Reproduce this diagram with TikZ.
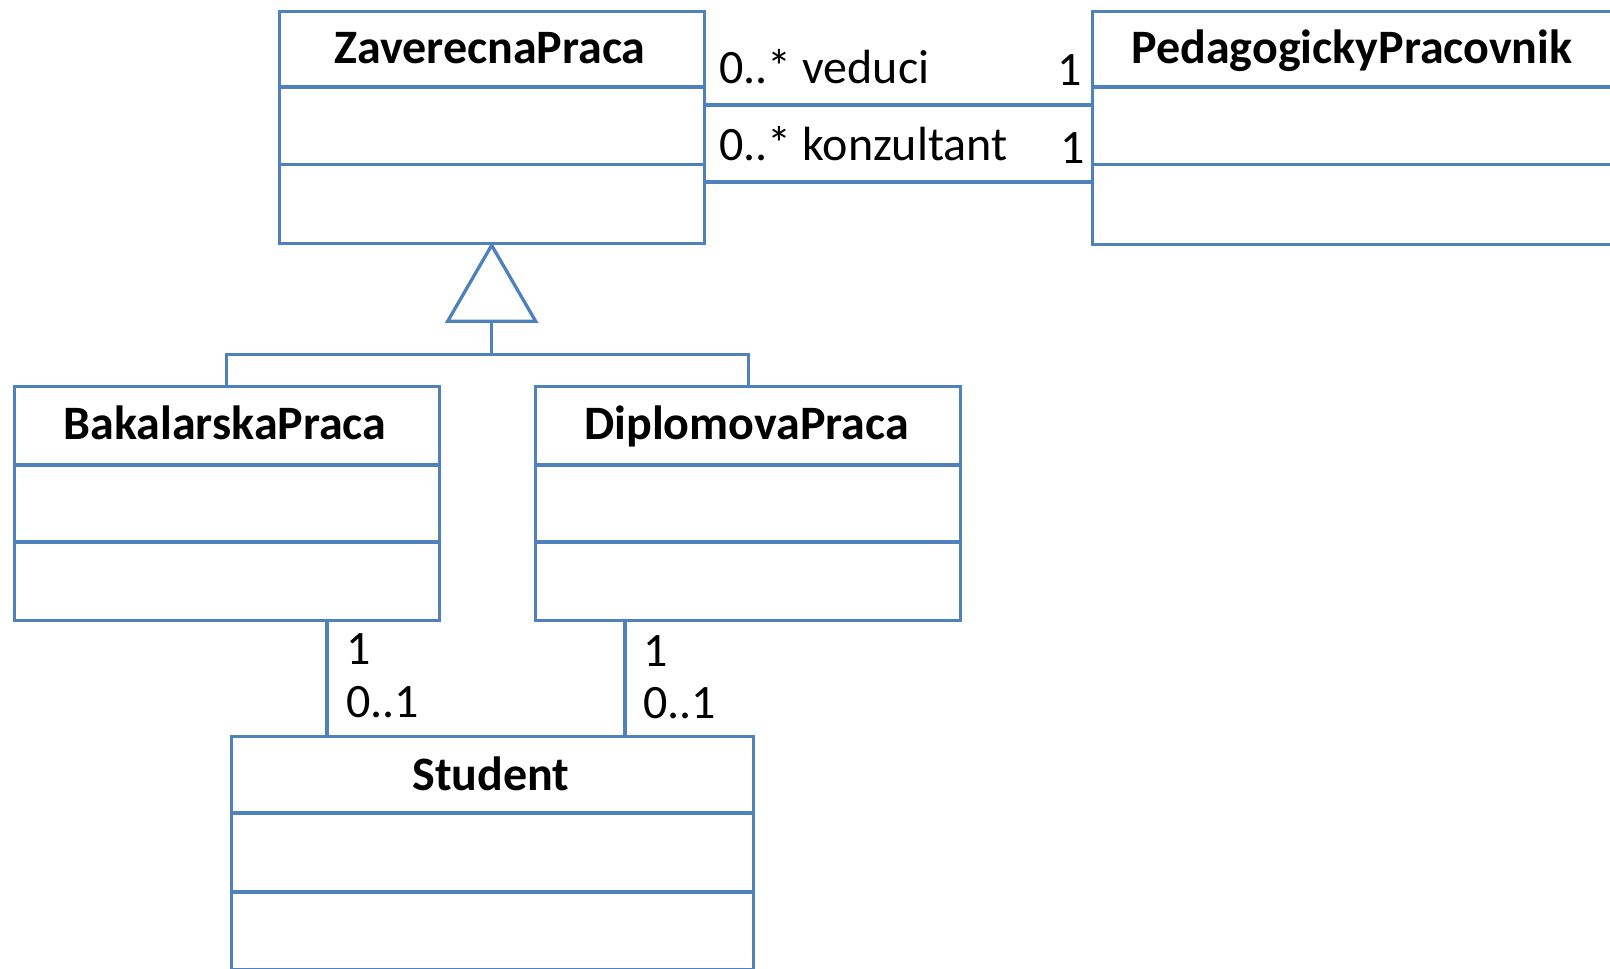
\documentclass[tikz,border=0pt]{standalone}
\usepackage{fontspec}
\setmainfont{Carlito}
\definecolor{ublue}{RGB}{79,129,189}
\tikzset{
  clsbox/.style={draw=ublue, line width=3.3pt, rectangle, inner sep=0pt, anchor=north west},
  divline/.style={draw=ublue, line width=3.3pt},
  clsname/.style={font=\fontsize{48}{58}\selectfont\bfseries, inner sep=0pt, anchor=base},
  mult/.style={font=\fontsize{48}{58}\selectfont, inner sep=0pt},
  assoc/.style={draw=ublue, line width=4pt},
  genline/.style={draw=ublue, line width=3.3pt, line join=miter},
}
\begin{document}
\begin{tikzpicture}[x=1pt, y=-1pt]
\useasboundingbox (0,0) rectangle (1610,969);
\clip (0,0) rectangle (1610,969);
% classes
\node[clsbox, minimum width=425pt, minimum height=232.5pt] (zav) at (277.5,9.5) {};
\draw[divline] ([yshift=-77.5pt]zav.north west) -- ([yshift=-77.5pt]zav.north east);
\draw[divline] ([yshift=-155pt]zav.north west) -- ([yshift=-155pt]zav.north east);
\node[clsname] (zavT) at (490,63) {ZaverecnaPraca};

\node[clsbox, minimum width=523pt, minimum height=232.5pt] (ped) at (1091,10) {};
\draw[divline] ([yshift=-77pt]ped.north west) -- ([yshift=-77pt]ped.north east);
\draw[divline] ([yshift=-154.5pt]ped.north west) -- ([yshift=-154.5pt]ped.north east);
\node[clsname] (pedT) at (1352,63) {PedagogickyPracovnik};

\node[clsbox, minimum width=425pt, minimum height=233.5pt] (bak) at (12.5,385) {};
\draw[divline] ([yshift=-80pt]bak.north west) -- ([yshift=-80pt]bak.north east);
\draw[divline] ([yshift=-157pt]bak.north west) -- ([yshift=-157pt]bak.north east);
\node[clsname] (bakT) at (225,439) {BakalarskaPraca};

\node[clsbox, minimum width=425pt, minimum height=233.5pt] (dip) at (534,385) {};
\draw[divline] ([yshift=-80pt]dip.north west) -- ([yshift=-80pt]dip.north east);
\draw[divline] ([yshift=-157pt]dip.north west) -- ([yshift=-157pt]dip.north east);
\node[clsname] (dipT) at (746.5,439) {DiplomovaPraca};

\node[clsbox, minimum width=522pt, minimum height=233pt] (stu) at (230,735) {};
\draw[divline] ([yshift=-78pt]stu.north west) -- ([yshift=-78pt]stu.north east);
\draw[divline] ([yshift=-157pt]stu.north west) -- ([yshift=-157pt]stu.north east);
\node[clsname] (stuT) at (491,790) {Student};

% associations to PedagogickyPracovnik
\draw[assoc] ([yshift=-95pt]zav.north east) -- ([yshift=-95pt]zav.north east -| ped.west);
\draw[assoc] ([yshift=-172.5pt]zav.north east) -- ([yshift=-172.5pt]zav.north east -| ped.west);
\node[mult, anchor=base west] (l1) at (719,83) {0..* veduci};
\node[mult, anchor=base east] (l2) at (1082,85) {1};
\node[mult, anchor=base west] (l3) at (719,160) {0..* konzultant};
\node[mult, anchor=base east] (l4) at (1085,163) {1};

% generalization
\coordinate (tribase) at ([yshift=-76pt]zav.south);
\coordinate (junc) at ([yshift=-109pt]zav.south);
\draw[genline] (zav.south) -- ([xshift=-44pt]tribase) -- ([xshift=44pt]tribase) -- cycle;
\draw[genline] (tribase) -- (junc);
\draw[genline] (bak.north) |- (junc) -| (dip.north);

% associations to Student
\draw[assoc] ([xshift=100pt]bak.south) -- ([xshift=100pt]bak.south |- stu.north);
\draw[assoc] ([xshift=-123.5pt]dip.south) -- ([xshift=-123.5pt]dip.south |- stu.north);
\node[mult, anchor=base west] (m1) at (346,664) {1};
\node[mult, anchor=base west] (m2) at (346,717) {0..1};
\node[mult, anchor=base west] (m3) at (643,666) {1};
\node[mult, anchor=base west] (m4) at (643,718) {0..1};
\end{tikzpicture}
\end{document}
